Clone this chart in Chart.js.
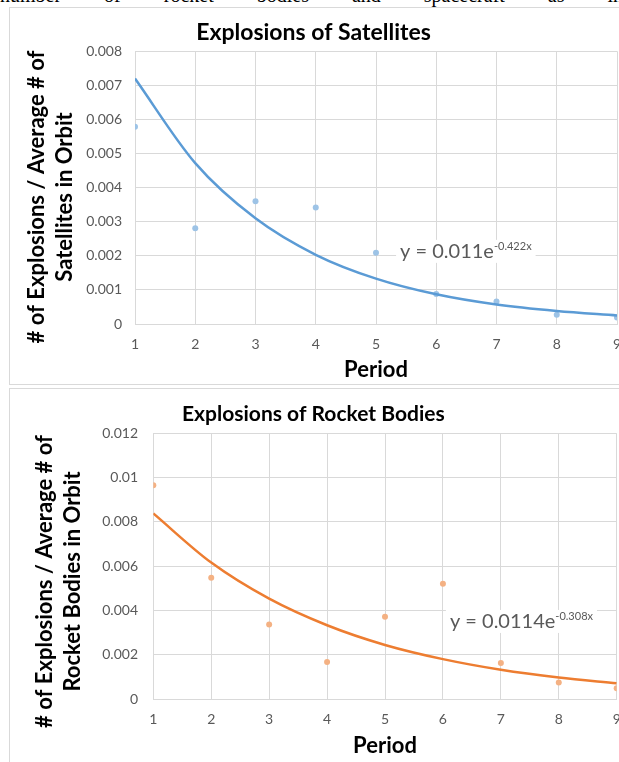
<!DOCTYPE html>
<html>
<head>
<meta charset="utf-8">
<script src="https://cdn.jsdelivr.net/npm/chart.js@4.4.1/dist/chart.umd.min.js"></script>
<style>
  body { margin:0; width:619px; height:762px; overflow:hidden; position:relative; background:#fff; }
  #cap { position:absolute; left:0; top:-15px; width:619px; font:20px "Liberation Serif", serif; line-height:20px;
         text-align:justify; text-align-last:justify; color:#000; white-space:nowrap; word-spacing:38px; }
  .frame { position:absolute; border:1px solid #d9d9d9; background:#fff; }
  canvas { position:absolute; left:0; }
</style>
</head>
<body>
<div id="cap">number of rocket bodies and spacecraft as input.</div>
<div class="frame" style="left:9px;top:7px;width:700px;height:376px"></div>
<div class="frame" style="left:9px;top:388px;width:700px;height:400px"></div>
<canvas id="sat" width="640" height="385" style="top:0"></canvas>
<canvas id="rb" width="640" height="373" style="top:389px"></canvas>
<script>
// period numbers on the x axis
const periods = [1, 2, 3, 4, 5, 6, 7, 8, 9];

// satellites: explosions / average number in orbit, and the exponential trendline
const satRate  = [0.00579, 0.00281, 0.0036, 0.00342, 0.00209, 0.00088, 0.00066, 0.00027, 0.00019];
const satTrend = [0.0072, 0.00472, 0.0031, 0.00203, 0.00133, 0.00087, 0.00057, 0.00038, 0.00025];

// rocket bodies
const rbRate  = [0.00965, 0.00548, 0.00337, 0.00167, 0.00372, 0.00521, 0.00163, 0.00074, 0.00048];
const rbTrend = [0.00838, 0.00616, 0.00453, 0.00333, 0.00244, 0.0018, 0.00132, 0.00097, 0.00071];

const FONT = 'Lato';
const GRID = '#d9d9d9';
const TXT = '#595959';

// draws the trendline equation with a white box behind it
const eqLabel = {
    id: 'eqLabel',
    afterDatasetsDraw(chart, args, opts) {
        const {ctx, scales} = chart;
        const px = scales.x.getPixelForValue(opts.at[0]);
        const py = scales.y.getPixelForValue(opts.at[1]);
        ctx.save();
        ctx.font = '20px ' + FONT;
        const w1 = ctx.measureText(opts.main).width;
        ctx.font = '11px ' + FONT;
        const w2 = ctx.measureText(opts.sup).width;
        ctx.fillStyle = '#fff';
        ctx.fillRect(px - 4, py - 18, w1 + w2 + 8, 23);
        ctx.fillStyle = TXT;
        ctx.textBaseline = 'alphabetic';
        ctx.textAlign = 'left';
        ctx.font = '20px ' + FONT;
        ctx.fillText(opts.main, px, py);
        ctx.font = '11px ' + FONT;
        ctx.fillText(opts.sup, px + w1, py - 8);
        ctx.restore();
    }
};

// two-line rotated y axis title, centred a bit lower than the plot (like Excel does)
const yTitle = {
    id: 'yTitle',
    afterDraw(chart, args, opts) {
        const ctx = chart.ctx;
        ctx.save();
        ctx.translate(opts.x, opts.y);
        ctx.rotate(-Math.PI / 2);
        ctx.font = 'bold 22px ' + FONT;
        ctx.fillStyle = '#000';
        ctx.textAlign = 'center';
        ctx.textBaseline = 'middle';
        opts.text.forEach((t, i) => ctx.fillText(t, 0, i * 28));
        ctx.restore();
    }
};

function fmt(v) { return String(+v.toFixed(4)); }

function makeChart(id, cfg) {
    const pts = cfg.rate.map((v, i) => ({x: periods[i], y: v}));
    const trend = cfg.trend.map((v, i) => ({x: periods[i], y: v}));
    return new Chart(document.getElementById(id), {
        type: 'scatter',
        data: {
            datasets: [
                {data: trend, showLine: true, borderColor: cfg.line, borderWidth: 2.5, pointRadius: 0,
                 cubicInterpolationMode: 'monotone', fill: false},
                {data: pts, pointRadius: 3, pointBackgroundColor: cfg.dot, pointBorderWidth: 0, borderColor: cfg.dot}
            ]
        },
        options: {
            responsive: false,
            animation: false,
            layout: {padding: {left: 10, right: cfg.padRight, top: cfg.padTop, bottom: cfg.padBottom}},
            plugins: {
                legend: {display: false},
                tooltip: {enabled: false},
                title: {display: true, text: cfg.title, color: '#000',
                        font: {family: FONT, size: cfg.titleSize, weight: 'bold', lineHeight: 1.2},
                        padding: cfg.titlePad},
                eqLabel: {at: cfg.eqAt, main: cfg.eqMain, sup: cfg.eqSup},
                yTitle: {text: cfg.yTitle, x: cfg.yTitleAt[0], y: cfg.yTitleAt[1]}
            },
            scales: {
                x: {
                    type: 'linear', min: 1, max: 9,
                    afterFit: s => { s.height = cfg.xHeight; },
                    ticks: {stepSize: 1, color: TXT, font: {family: FONT, size: 14}, padding: cfg.xTickPad},
                    grid: {color: GRID, drawTicks: false},
                    border: {color: GRID},
                    title: {display: true, text: 'Period', color: '#000',
                            font: {family: FONT, size: 22, weight: 'bold', lineHeight: 1.2},
                            padding: {top: 0, bottom: cfg.xTitlePad}}
                },
                y: {
                    min: 0, max: cfg.yMax,
                    afterFit: s => { s.width = cfg.yWidth; },
                    ticks: {stepSize: cfg.yStep, color: TXT, font: {family: FONT, size: 14},
                            padding: cfg.yTickPad, callback: fmt},
                    grid: {color: GRID, drawTicks: false},
                    border: {color: GRID}
                }
            }
        },
        plugins: [eqLabel, yTitle]
    });
}

makeChart('sat', {
    rate: satRate, trend: satTrend, dot: '#9dc3e6', line: '#5b9bd5',
    title: 'Explosions of Satellites', titleSize: 23,
    yTitle: ['# of Explosions / Average # of', 'Satellites in Orbit'], yTitleAt: [37, 197],
    yMax: 0.008, yStep: 0.001,
    padRight: 23, padTop: 8, padBottom: 1,
    titlePad: {top: 10.5, bottom: 5.2},
    xHeight: 60, xTickPad: 12, xTitlePad: 1,
    yWidth: 125, yTickPad: 13,
    eqAt: [5.4, 0.00194], eqMain: 'y = 0.011e', eqSup: '-0.422x'
});

makeChart('rb', {
    rate: rbRate, trend: rbTrend, dot: '#f4b183', line: '#ed7d31',
    title: 'Explosions of Rocket Bodies', titleSize: 21,
    yTitle: ['# of Explosions / Average # of', 'Rocket Bodies in Orbit'], yTitleAt: [45, 192.5],
    yMax: 0.012, yStep: 0.002,
    padRight: 23.3, padTop: 0, padBottom: 0,
    titlePad: {top: 12.9, bottom: 6.2},
    xHeight: 63, xTickPad: 12.5, xTitlePad: 3.3,
    yWidth: 143.3, yTickPad: 15.3,
    eqAt: [6.12, 0.00321], eqMain: 'y = 0.0114e', eqSup: '-0.308x'
});
</script>
</body>
</html>
